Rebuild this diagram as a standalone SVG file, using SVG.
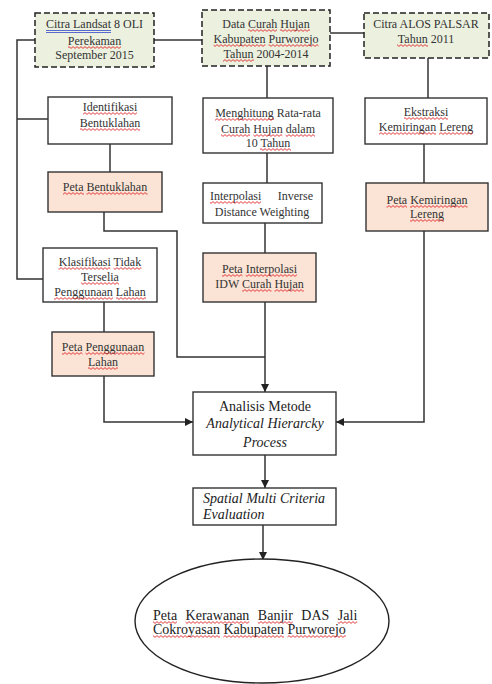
<svg xmlns="http://www.w3.org/2000/svg" width="492" height="684" viewBox="0 0 492 684">
<defs>
<marker id="ah" viewBox="0 0 10 10" refX="10" refY="5" markerWidth="8" markerHeight="8" markerUnits="userSpaceOnUse" orient="auto">
<path d="M0,0 L10,5 L0,10 Z" fill="#222"/>
</marker>
<pattern id="w0" patternUnits="userSpaceOnUse" x="0" y="0" width="4" height="3"><path d="M0,1.5 Q1,-0.3 2,1.5 T4,1.5" fill="none" stroke="#e02828" stroke-width="0.9"/></pattern>
<pattern id="w1" patternUnits="userSpaceOnUse" x="0" y="1" width="4" height="3"><path d="M0,1.5 Q1,-0.3 2,1.5 T4,1.5" fill="none" stroke="#e02828" stroke-width="0.9"/></pattern>
<pattern id="w2" patternUnits="userSpaceOnUse" x="0" y="2" width="4" height="3"><path d="M0,1.5 Q1,-0.3 2,1.5 T4,1.5" fill="none" stroke="#e02828" stroke-width="0.9"/></pattern>
<style>
.src{fill:#ebf0df;stroke:#222;stroke-width:1.5;stroke-dasharray:6,3}
.proc{fill:#ffffff;stroke:#333;stroke-width:1.4}
.map{fill:#fbe4d5;stroke:#333;stroke-width:1.4}
text{font-family:"Liberation Serif","Times New Roman",serif;fill:#333;font-size:12px;text-anchor:middle}
.big{font-size:14px;fill:#222}
.it{font-style:italic}
.conn path{fill:none;stroke:#333;stroke-width:1.5}
.a{fill:url(#w0)}
.b{fill:url(#w1)}
.c{fill:url(#w2)}
.blue{stroke:#4a5acc;stroke-width:0.9}
</style>
</defs>
<rect width="492" height="684" fill="#ffffff"/>
<g class="conn">
<path d="M35,40 H17 V279 H43"/>
<path d="M17,119 H48"/>
<path d="M154,40 H202"/>
<path d="M330,33 H364"/>
<path d="M267,66 V98"/>
<path d="M267,153 V183"/>
<path d="M265,223 V253"/>
<path d="M265,302 V392" marker-end="url(#ah)"/>
<path d="M104,212 V231 H177 V357 H265"/>
<path d="M110,144 V172"/>
<path d="M104,302 V332"/>
<path d="M104,376 V422 H193" marker-end="url(#ah)"/>
<path d="M428,58 V98"/>
<path d="M424,144 V183"/>
<path d="M424,231 V422 H336" marker-end="url(#ah)"/>
<path d="M265,455 V488" marker-end="url(#ah)"/>
<path d="M263,525 V560" marker-end="url(#ah)"/>
</g>
<g id="landsat">
<rect class="src" x="35" y="13" width="119" height="54"/>
<text x="94.5" y="28">Citra Landsat 8 OLI</text>
<text x="94.5" y="45">Perekaman</text>
<text x="94.5" y="59">September 2015</text>
</g>
<g id="curahhujan">
<rect class="src" x="202" y="10" width="128" height="56"/>
<text x="266" y="28">Data Curah Hujan</text>
<text x="266" y="43">Kabupaten Purworejo</text>
<text x="266" y="58">Tahun 2004-2014</text>
</g>
<g id="alos">
<rect class="src" x="364" y="13" width="125" height="45"/>
<text x="426" y="28">Citra ALOS PALSAR</text>
<text x="426" y="43">Tahun 2011</text>
</g>
<g id="identifikasi">
<rect class="proc" x="48" y="97" width="124" height="47"/>
<text x="110" y="111">Identifikasi</text>
<text x="110" y="127">Bentuklahan</text>
</g>
<g id="petabentuk">
<rect class="map" x="48" y="172" width="114" height="40"/>
<text x="105" y="191">Peta Bentuklahan</text>
</g>
<g id="klasifikasi">
<rect class="proc" x="43" y="248" width="114" height="54"/>
<text x="100" y="266">Klasifikasi Tidak</text>
<text x="100" y="281">Terselia</text>
<text x="100" y="296">Penggunaan Lahan</text>
</g>
<g id="petaguna">
<rect class="map" x="52" y="332" width="102" height="44"/>
<text x="103" y="351">Peta Penggunaan</text>
<text x="103" y="366">Lahan</text>
</g>
<g id="menghitung">
<rect class="proc" x="203" y="98" width="130" height="55"/>
<text x="268" y="117">Menghitung Rata-rata</text>
<text x="268" y="133">Curah Hujan dalam</text>
<text x="268" y="147">10 Tahun</text>
</g>
<g id="interpolasi">
<rect class="proc" x="203" y="183" width="119" height="40"/>
<text x="210" y="200" style="text-anchor:start">Interpolasi</text>
<text x="313" y="200" style="text-anchor:end">Inverse</text>
<text x="262" y="216">Distance Weighting</text>
</g>
<g id="petainterp">
<rect class="map" x="203" y="253" width="113" height="49"/>
<text x="259.5" y="273">Peta Interpolasi</text>
<text x="259.5" y="288">IDW Curah Hujan</text>
</g>
<g id="ekstraksi">
<rect class="proc" x="365" y="98" width="122" height="46"/>
<text x="426" y="116">Ekstraksi</text>
<text x="426" y="131">Kemiringan Lereng</text>
</g>
<g id="petalereng">
<rect class="map" x="366" y="183" width="122" height="48"/>
<text x="427" y="204">Peta Kemiringan</text>
<text x="427" y="218">Lereng</text>
</g>
<g id="ahp">
<rect class="proc" x="193" y="392" width="143" height="63"/>
<text class="big" x="265" y="411">Analisis Metode</text>
<text class="big it" x="265" y="428">Analytical Hierarcky</text>
<text class="big it" x="265" y="447">Process</text>
</g>
<g id="smce">
<rect class="proc" x="193" y="488" width="143" height="37"/>
<text class="big it" x="203" y="503" style="text-anchor:start">Spatial Multi Criteria</text>
<text class="big it" x="203" y="519" style="text-anchor:start">Evaluation</text>
</g>
<g id="hasil">
<ellipse cx="262" cy="621" rx="127" ry="62" fill="#ffffff" stroke="#222" stroke-width="1.4"/>
<text class="big" x="153" y="620" style="text-anchor:start;word-spacing:5px">Peta Kerawanan Banjir DAS Jali</text>
<text class="big" x="153" y="634" style="text-anchor:start">Cokroyasan Kabupaten Purworejo</text>
</g>
<g id="spellmarks">
<path class="blue" d="M46,30.5 H111 M46,32.5 H111"/>
<rect class="b" x="68" y="46" width="53" height="3"/>
<rect class="c" x="248" y="29" width="29" height="3"/>
<rect class="c" x="280" y="29" width="30" height="3"/>
<rect class="c" x="213.5" y="44" width="52" height="3"/>
<rect class="c" x="268.5" y="44" width="50" height="3"/>
<rect class="c" x="223" y="59" width="31" height="3"/>
<rect class="c" x="397" y="44" width="31" height="3"/>
<rect class="b" x="83" y="112" width="54" height="3"/>
<rect class="c" x="80" y="128" width="60" height="3"/>
<rect class="a" x="63" y="192" width="21" height="3"/>
<rect class="a" x="86.5" y="192" width="61" height="3"/>
<rect class="a" x="58.5" y="267" width="52" height="3"/>
<rect class="a" x="113.5" y="267" width="28" height="3"/>
<rect class="a" x="81" y="282" width="38" height="3"/>
<rect class="a" x="54" y="297" width="59" height="3"/>
<rect class="a" x="116" y="297" width="30" height="3"/>
<rect class="b" x="62" y="352" width="20.5" height="3"/>
<rect class="b" x="85.5" y="352" width="59" height="3"/>
<rect class="b" x="88" y="367" width="30" height="3"/>
<rect class="b" x="215" y="118" width="59" height="3"/>
<rect class="c" x="221" y="134" width="29" height="3"/>
<rect class="c" x="253.3" y="134" width="29" height="3"/>
<rect class="c" x="285.6" y="134" width="29.4" height="3"/>
<rect class="b" x="260" y="148" width="31" height="3"/>
<rect class="a" x="210" y="201" width="51" height="3"/>
<rect class="b" x="222" y="274" width="20.5" height="3"/>
<rect class="b" x="245.7" y="274" width="51.3" height="3"/>
<rect class="b" x="242.2" y="289" width="29.3" height="3"/>
<rect class="b" x="274.5" y="289" width="29.3" height="3"/>
<rect class="a" x="404" y="117" width="44" height="3"/>
<rect class="a" x="379" y="132" width="57" height="3"/>
<rect class="a" x="439" y="132" width="34" height="3"/>
<rect class="b" x="386.5" y="205" width="20.5" height="3"/>
<rect class="b" x="410" y="205" width="57.5" height="3"/>
<rect class="a" x="410" y="219" width="34" height="3"/>
<rect class="a" x="153" y="621" width="24" height="3"/>
<rect class="a" x="185.6" y="621" width="63.7" height="3"/>
<rect class="a" x="257.8" y="621" width="35" height="3"/>
<rect class="a" x="337.8" y="621" width="19.4" height="3"/>
<rect class="c" x="153" y="635" width="67" height="3"/>
<rect class="c" x="223.4" y="635" width="60.6" height="3"/>
<rect class="c" x="287.5" y="635" width="58.4" height="3"/>
</g>
</svg>
